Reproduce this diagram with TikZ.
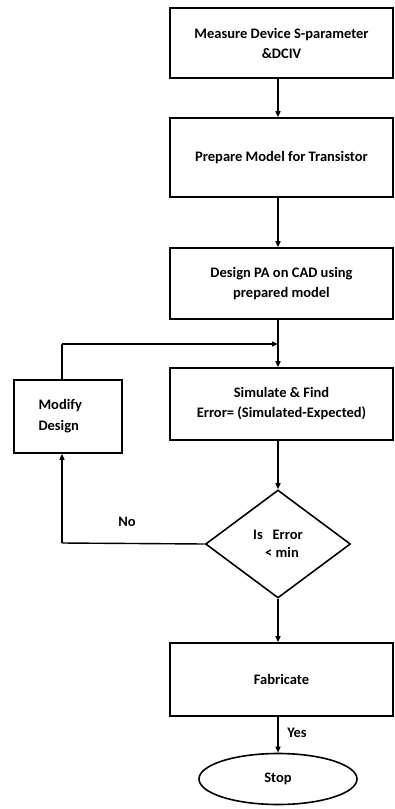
\documentclass[tikz,border=0pt]{standalone}
\usepackage{fontspec}
\setmainfont{Carlito}
\usetikzlibrary{shapes.geometric,arrows.meta}
\begin{document}
\begin{tikzpicture}[x=1pt,y=-1pt,
  every node/.style={font=\fontsize{14.5}{20}\selectfont\bfseries},
  procbox/.style={draw,line width=1.6pt,minimum width=223pt,inner sep=0pt,align=center},
  flow/.style={line width=1.4pt,-{Triangle[length=6pt,width=5pt]}},
  plain/.style={line width=1.4pt}]
\useasboundingbox (0,0) rectangle (395,809);
% main column of process boxes
\node[procbox,minimum height=70pt] (measure) at (281.5,43) {Measure Device S-parameter\\\&DCIV};
\node[procbox,minimum height=79pt] (prepare) at (281.5,157.5) {Prepare Model for Transistor};
\node[procbox,minimum height=71pt] (design) at (281.5,283.5) {Design PA on CAD using\\prepared model};
\node[procbox,minimum height=72pt] (simulate) at (281.5,404) {Simulate \& Find\\Error= (Simulated-Expected)};
\node[draw,diamond,aspect=1.33,line width=1.6pt,minimum width=145pt,minimum height=108pt,inner sep=0pt,align=center,font=\fontsize{14.5}{18}\selectfont\bfseries] (check) at (278,544) {Is~~~Error\\\hspace*{8pt}< min};
\node[procbox,minimum height=73pt] (fab) at (281.5,679.5) {Fabricate};
\node[draw,ellipse,line width=1.6pt,minimum width=158pt,minimum height=51pt,inner sep=0pt] (stop) at (278,779) {Stop};
% feedback branch
\node[draw,line width=1.6pt,minimum width=108pt,minimum height=73pt,inner sep=0pt] (modify) at (68,416.5) {};
\node[anchor=west,align=left,font=\fontsize{14.5}{21}\selectfont\bfseries] (modtext) at (35,416.5) {Modify\\Design};
\coordinate (join) at (278,344);
\coordinate (upleft) at (62,344);
\coordinate (lowleft) at (62,543);
% connectors
\draw[flow] ([xshift=-3.5pt]measure.south) -- ([xshift=-3.5pt]prepare.north);
\draw[flow] ([xshift=-3.5pt]prepare.south) -- ([xshift=-3.5pt]design.north);
\draw[flow] ([xshift=-3.5pt]design.south) -- ([xshift=-3.5pt]simulate.north);
\draw[flow] ([xshift=-3.5pt]simulate.south) -- (check.north);
\draw[flow] (check.south) -- ([xshift=-3.5pt]fab.north);
\draw[flow] ([xshift=-3.5pt]fab.south) -- (stop.north);
\draw[plain] (check.west) -- (lowleft);
\draw[flow] (lowleft) -- (modify.south -| lowleft);
\draw[plain] (modify.north -| upleft) -- (upleft);
\draw[flow] (upleft) -- (join);
% branch labels
\node (no) at (127,522) {No};
\node (yes) at (297,733) {Yes};
\end{tikzpicture}
\end{document}
